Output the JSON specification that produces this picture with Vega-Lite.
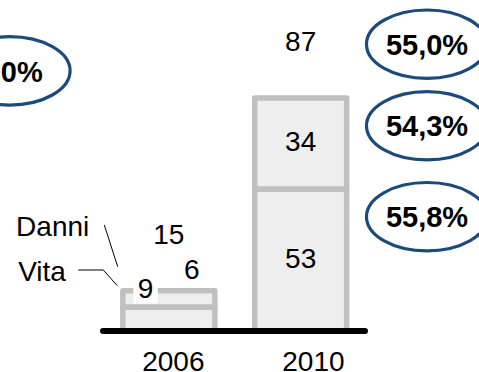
{
  "$schema": "https://vega.github.io/schema/vega-lite/v6.json",
  "width": 479,
  "height": 331,
  "autosize": {"type": "none"},
  "padding": {"left": 0, "top": 0, "right": 0, "bottom": 41},
  "config": {
    "font": "Liberation Sans",
    "view": {"stroke": null},
    "axisY": {"disable": true},
    "axisX": {
      "domain": false,
      "ticks": false,
      "tickSize": 0,
      "grid": false,
      "labelAngle": 0,
      "labelFont": "Liberation Sans",
      "labelFontSize": 28,
      "labelColor": "#000000",
      "labelPadding": 17
    },
    "text": {"fontSize": 28, "color": "#000000", "baseline": "middle"}
  },
  "datasets": {
    "premi": [
      {"anno": "2006", "ramo": "Vita", "valore": 9},
      {"anno": "2006", "ramo": "Danni", "valore": 6},
      {"anno": "2010", "ramo": "Vita", "valore": 53},
      {"anno": "2010", "ramo": "Danni", "valore": 34}
    ],
    "quote": [
      {"anno": "2006", "gruppo": "Totale", "quota": "60,0%"},
      {"anno": "2010", "gruppo": "Totale", "quota": "55,0%"},
      {"anno": "2010", "gruppo": "Danni", "quota": "54,3%"},
      {"anno": "2010", "gruppo": "Vita", "quota": "55,8%"}
    ]
  },
  "layer": [
    {
      "data": {"name": "premi"},
      "mark": {"type": "bar", "fill": "#eeeeee", "stroke": "#c0c0c0", "strokeWidth": 5.5, "strokeJoin": "round"},
      "encoding": {
        "x": {
          "field": "anno",
          "type": "nominal",
          "title": null,
          "scale": {"domain": ["2006", "2010"], "paddingInner": 0.30224, "paddingOuter": 0.9676, "align": 0.48148},
          "axis": {"labelOffset": {"condition": {"test": "datum.value === '2010'", "value": 12.7}, "value": 4.5}}
        },
        "y": {"field": "valore", "type": "quantitative", "stack": "zero", "scale": {"domain": [0, 123.53], "nice": false}},
        "order": {"field": "ramo", "sort": "descending"}
      }
    },
    {
      "data": {"name": "premi"},
      "transform": [{"filter": "datum.anno === '2006' && datum.ramo === 'Vita'"}],
      "mark": {"type": "point", "shape": "M-1,-2.2H1V-0.28H-1Z", "size": 595, "filled": true, "fill": "#ffffff", "opacity": 1, "strokeWidth": 0},
      "encoding": {
        "x": {"field": "anno", "type": "nominal", "bandPosition": 0.2462, "title": null},
        "y": {"field": "valore", "type": "quantitative"}
      }
    },
    {
      "data": {"values": [{"inizio": "2006", "fine": "2010"}]},
      "mark": {"type": "rule", "color": "#000000", "strokeWidth": 6, "strokeCap": "round"},
      "encoding": {
        "x": {"field": "inizio", "type": "nominal", "bandPosition": -0.2158, "title": null},
        "x2": {"field": "fine", "bandPosition": 1.199},
        "y": {"datum": 0, "type": "quantitative"}
      }
    },
    {
      "data": {"name": "premi"},
      "transform": [{"aggregate": [{"op": "sum", "field": "valore", "as": "totale"}], "groupby": ["anno"]}],
      "mark": {"type": "text", "dy": -55.2},
      "encoding": {
        "x": {"field": "anno", "type": "nominal", "title": null},
        "y": {"field": "totale", "type": "quantitative"},
        "text": {"field": "totale", "type": "quantitative"}
      }
    },
    {
      "data": {"name": "premi"},
      "transform": [
        {"filter": "datum.anno === '2010'"},
        {"stack": "valore", "groupby": ["anno"], "sort": [{"field": "ramo", "order": "descending"}], "as": ["y0", "y1"]},
        {"fold": ["y0", "y1"], "as": ["estremo", "livello"]},
        {"aggregate": [{"op": "mean", "field": "livello", "as": "centro"}], "groupby": ["anno", "ramo", "valore"]}
      ],
      "mark": {"type": "text"},
      "encoding": {
        "x": {"field": "anno", "type": "nominal", "title": null},
        "y": {"field": "centro", "type": "quantitative"},
        "text": {"field": "valore", "type": "quantitative"}
      }
    },
    {
      "data": {"name": "premi"},
      "transform": [{"filter": "datum.anno === '2006' && datum.ramo === 'Vita'"}],
      "mark": {"type": "text", "dy": -17.3},
      "encoding": {
        "x": {"field": "anno", "type": "nominal", "bandPosition": 0.2462, "title": null},
        "y": {"field": "valore", "type": "quantitative"},
        "text": {"field": "valore", "type": "quantitative"}
      }
    },
    {
      "data": {"name": "premi"},
      "transform": [
        {"filter": "datum.anno === '2006'"},
        {"stack": "valore", "groupby": ["anno"], "sort": [{"field": "ramo", "order": "descending"}], "as": ["y0", "y1"]},
        {"filter": "datum.ramo === 'Danni'"}
      ],
      "mark": {"type": "text", "dy": -20.2},
      "encoding": {
        "x": {"field": "anno", "type": "nominal", "bandPosition": 0.748, "title": null},
        "y": {"field": "y1", "type": "quantitative"},
        "text": {"field": "valore", "type": "quantitative"}
      }
    },
    {
      "data": {"name": "premi"},
      "transform": [{"filter": "datum.anno === '2006' && datum.ramo === 'Danni'"}],
      "layer": [
        {
          "mark": {"type": "text", "align": "left"},
          "encoding": {
            "x": {"field": "anno", "type": "nominal", "bandPosition": -1.1603, "title": null},
            "y": {"datum": 38.33, "type": "quantitative"},
            "text": {"field": "ramo", "type": "nominal"}
          }
        },
        {
          "mark": {"type": "rule", "color": "#000000", "strokeWidth": 1},
          "encoding": {
            "x": {"field": "anno", "type": "nominal", "bandPosition": -0.2016, "title": null},
            "x2": {"field": "anno", "bandPosition": -0.056},
            "y": {"datum": 39.56, "type": "quantitative"},
            "y2": {"datum": 24.0}
          }
        }
      ]
    },
    {
      "data": {"name": "premi"},
      "transform": [{"filter": "datum.anno === '2006' && datum.ramo === 'Vita'"}],
      "layer": [
        {
          "mark": {"type": "text", "align": "left"},
          "encoding": {
            "x": {"field": "anno", "type": "nominal", "bandPosition": -1.1375, "title": null},
            "y": {"datum": 21.53, "type": "quantitative"},
            "text": {"field": "ramo", "type": "nominal"}
          }
        },
        {
          "mark": {"type": "rule", "color": "#000000", "strokeWidth": 1},
          "encoding": {
            "x": {"field": "anno", "type": "nominal", "bandPosition": -0.4842, "title": null},
            "x2": {"field": "anno", "bandPosition": -0.2125},
            "y": {"datum": 22.77, "type": "quantitative"}
          }
        },
        {
          "mark": {"type": "rule", "color": "#000000", "strokeWidth": 1},
          "encoding": {
            "x": {"field": "anno", "type": "nominal", "bandPosition": -0.2125, "title": null},
            "x2": {"field": "anno", "bandPosition": -0.0603},
            "y": {"datum": 22.77, "type": "quantitative"},
            "y2": {"datum": 16.91}
          }
        }
      ]
    },
    {
      "data": {"name": "quote"},
      "transform": [{"filter": "datum.anno === '2006'"}],
      "encoding": {
        "x": {"field": "anno", "type": "nominal", "bandPosition": -1.231, "title": null},
        "y": {"datum": 97.09, "type": "quantitative"}
      },
      "layer": [
        {"mark": {"type": "point", "shape": "M-1,0C-1,-0.312 -0.5523,-0.565 0,-0.565C0.5523,-0.565 1,-0.312 1,0C1,0.312 0.5523,0.565 0,0.565C-0.5523,0.565 -1,0.312 -1,0Z", "size": 14641, "filled": false, "color": "#1b4a7c", "stroke": "#1b4a7c", "strokeWidth": 3.2, "opacity": 1}},
        {
          "mark": {"type": "text", "fontWeight": "bold", "fontSize": 29, "dy": 1.7},
          "encoding": {
            "x": {"field": "anno", "type": "nominal", "bandPosition": -1.318, "title": null},
            "text": {"field": "quota", "type": "nominal"}
          }
        }
      ]
    },
    {
      "data": {"name": "quote"},
      "transform": [{"filter": "datum.anno === '2010' && datum.gruppo === 'Totale'"}],
      "encoding": {
        "x": {"field": "anno", "type": "nominal", "bandPosition": 1.8728, "title": null},
        "y": {"datum": 107.05, "type": "quantitative"}
      },
      "layer": [
        {"mark": {"type": "point", "shape": "M-1,0C-1,-0.312 -0.5523,-0.565 0,-0.565C0.5523,-0.565 1,-0.312 1,0C1,0.312 0.5523,0.565 0,0.565C-0.5523,0.565 -1,0.312 -1,0Z", "size": 14641, "filled": false, "color": "#1b4a7c", "stroke": "#1b4a7c", "strokeWidth": 3.2, "opacity": 1}},
        {"mark": {"type": "text", "fontWeight": "bold", "fontSize": 29, "dy": 1.7}, "encoding": {"text": {"field": "quota", "type": "nominal"}}}
      ]
    },
    {
      "data": {"name": "quote"},
      "transform": [{"filter": "datum.anno === '2010' && datum.gruppo === 'Danni'"}],
      "encoding": {
        "x": {"field": "anno", "type": "nominal", "bandPosition": 1.8728, "title": null},
        "y": {"datum": 76.6, "type": "quantitative"}
      },
      "layer": [
        {"mark": {"type": "point", "shape": "M-1,0C-1,-0.312 -0.5523,-0.565 0,-0.565C0.5523,-0.565 1,-0.312 1,0C1,0.312 0.5523,0.565 0,0.565C-0.5523,0.565 -1,0.312 -1,0Z", "size": 14641, "filled": false, "color": "#1b4a7c", "stroke": "#1b4a7c", "strokeWidth": 3.2, "opacity": 1}},
        {"mark": {"type": "text", "fontWeight": "bold", "fontSize": 29, "dy": 1.7}, "encoding": {"text": {"field": "quota", "type": "nominal"}}}
      ]
    },
    {
      "data": {"name": "quote"},
      "transform": [{"filter": "datum.anno === '2010' && datum.gruppo === 'Vita'"}],
      "encoding": {
        "x": {"field": "anno", "type": "nominal", "bandPosition": 1.8728, "title": null},
        "y": {"datum": 42.66, "type": "quantitative"}
      },
      "layer": [
        {"mark": {"type": "point", "shape": "M-1,0C-1,-0.312 -0.5523,-0.565 0,-0.565C0.5523,-0.565 1,-0.312 1,0C1,0.312 0.5523,0.565 0,0.565C-0.5523,0.565 -1,0.312 -1,0Z", "size": 14641, "filled": false, "color": "#1b4a7c", "stroke": "#1b4a7c", "strokeWidth": 3.2, "opacity": 1}},
        {"mark": {"type": "text", "fontWeight": "bold", "fontSize": 29, "dy": 1.7}, "encoding": {"text": {"field": "quota", "type": "nominal"}}}
      ]
    }
  ]
}
